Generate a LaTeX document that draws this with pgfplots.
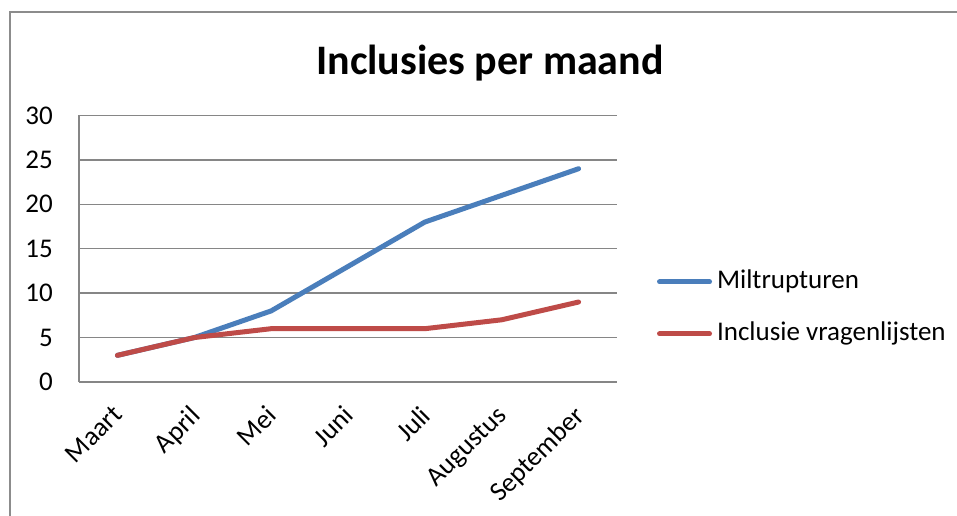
\documentclass[border=0pt]{standalone}
\usepackage{fontspec}
\setmainfont{Carlito}
\usepackage{pgfplots}
\pgfplotsset{compat=1.18}
\definecolor{xlblue}{RGB}{74,126,187}
\definecolor{xlred}{RGB}{190,75,72}
\definecolor{xlgrid}{RGB}{134,134,134}
\definecolor{xlframe}{RGB}{140,140,140}

\begin{document}
\begin{tikzpicture}[x=1pt,y=1pt]
\useasboundingbox (0,0) rectangle (957,515);
\clip (0,0) rectangle (957,515);
% chart area border (cut off at right and bottom)
\draw[xlframe, line width=2pt] (9.5,-20) -- (9.5,502.7) -- (980,502.7);
\node[font=\bfseries\fontsize{42}{50}\selectfont] at (490,451.5) {Inclusies per maand};

\begin{axis}[
    at={(79pt,133pt)}, anchor=south west,
    scale only axis,
    width=538pt, height=266.6pt,
    xmin=-0.5, xmax=6.5,
    ymin=0, ymax=30,
    xtick={0,...,6},
    xticklabels={Maart,April,Mei,Juni,Juli,Augustus,September},
    ytick={0,5,...,30},
    axis x line=bottom, axis y line=left,
    axis line style={-, xlgrid, line width=1.5pt},
    ymajorgrids,
    major grid style={xlgrid, line width=1.5pt},
    major tick length=0pt,
    font=\fontsize{27}{32}\selectfont,
    /pgf/number format/assume math mode=true,
    yticklabel style={inner sep=0pt, xshift=-26pt, anchor=east},
    xticklabel style={inner sep=0pt, rotate=45, anchor=north east, xshift=-19.9pt, yshift=-11.3pt},
    legend style={draw=none, fill=none, at={(1.074,0.278)}, anchor=west,
        inner sep=0pt, row sep=29pt, column sep=5pt,
        nodes={inner sep=0pt, text height=18pt, text depth=5pt},
        font=\fontsize{27}{32}\selectfont},
    legend cell align=left,
    legend image code/.code={\draw[#1, line width=5pt, line cap=round] (2.5pt,0pt) -- (52.5pt,0pt);},
    every axis plot/.append style={line width=5pt, line cap=round, line join=round},
    clip=false,
]
\addplot[xlblue] coordinates {
    (0,3) (1,5) (2,8) (3,13) (4,18) (5,21) (6,24)
};
\addplot[xlred] coordinates {
    (0,3) (1,5) (2,6) (3,6) (4,6) (5,7) (6,9)
};
\legend{Miltrupturen,Inclusie vragenlijsten}
\end{axis}
\end{tikzpicture}
\end{document}
